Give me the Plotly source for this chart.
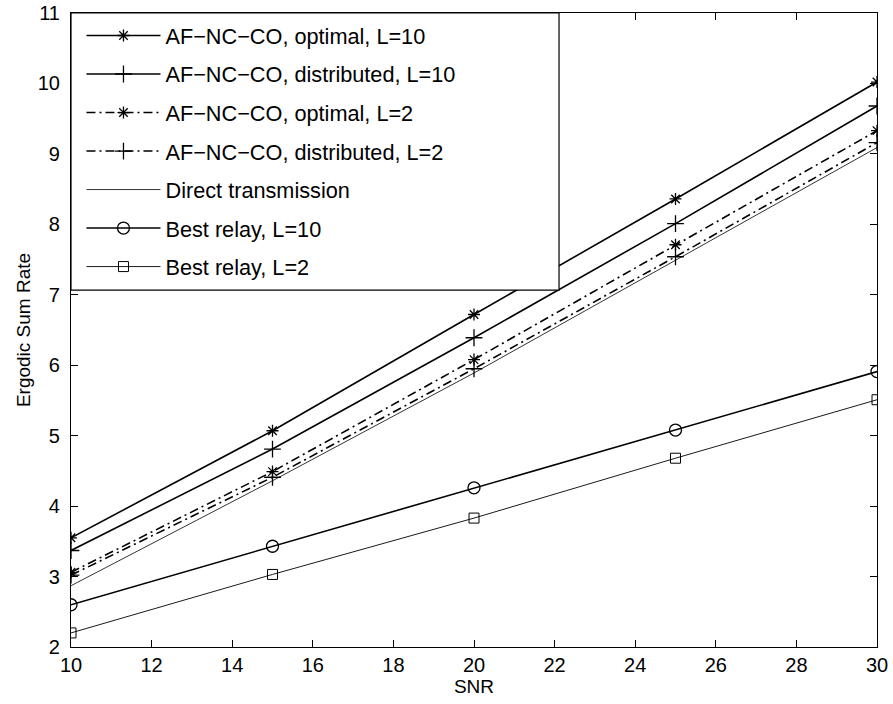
import plotly.graph_objects as go

snr = [10, 15, 20, 25, 30]
opt_L10 = [3.55, 5.07, 6.72, 8.36, 10.02]
dist_L10 = [3.37, 4.81, 6.39, 8.01, 9.68]
opt_L2 = [3.06, 4.49, 6.08, 7.71, 9.33]
dist_L2 = [3.02, 4.41, 5.95, 7.54, 9.16]
direct = [2.87, 4.36, 5.89, 7.49, 9.09]
best_L10 = [2.60, 3.43, 4.26, 5.08, 5.91]
best_L2 = [2.20, 3.03, 3.83, 4.68, 5.51]

names = ["AF\u2212NC\u2212CO, optimal, L=10", "AF\u2212NC\u2212CO, distributed, L=10",
         "AF\u2212NC\u2212CO, optimal, L=2", "AF\u2212NC\u2212CO, distributed, L=2",
         "Direct transmission", "Best relay, L=10", "Best relay, L=2"]

dashdot = "9px,4px,2px,4px"
specs = [
    (opt_L10, "solid", 1.6, "lines+markers", "asterisk-open", 10),
    (dist_L10, "solid", 1.6, "lines+markers", "cross-thin-open", 12),
    (opt_L2, dashdot, 1.6, "lines+markers", "asterisk-open", 10),
    (dist_L2, dashdot, 1.6, "lines+markers", "cross-thin-open", 12),
    (direct, "solid", 0.8, "lines", "circle", 1),
    (best_L10, "solid", 1.6, "lines+markers", "circle-open", 12),
    (best_L2, "solid", 0.9, "lines+markers", "square-open", 10),
]

fig = go.Figure()
for i, (vals, dash, w, mode, sym, sz) in enumerate(specs):
    fig.add_trace(go.Scatter(
        x=snr, y=vals, name=names[i], mode=mode, legendgroup=str(i),
        line=dict(color="black", width=w, dash=dash),
        marker=dict(symbol=sym, size=sz, color="black",
                    line=dict(color="black", width=1.3 if w > 1 else 1)),
    ))

# legend frame (drawn as a shape so its size matches the reference)
fig.add_shape(type="rect", xref="paper", yref="paper",
              x0=0, x1=0.6055, y0=0.563, y1=1,
              fillcolor="white", line=dict(color="black", width=1.2), layer="above")

fig.update_layout(
    width=893, height=704,
    margin=dict(l=71, r=16, t=13, b=57),
    paper_bgcolor="white", plot_bgcolor="white",
    font=dict(family="Liberation Sans, Arial, sans-serif", size=21, color="black"),
    showlegend=True,
    legend=dict(x=0.013, y=0.997, xanchor="left", yanchor="top",
                borderwidth=0, bgcolor="rgba(0,0,0,0)",
                font=dict(size=21.7), itemwidth=74,
                traceorder="grouped", tracegroupgap=7.3),
)
fig.update_xaxes(range=[10, 30], tickmode="linear", tick0=10, dtick=2,
                 ticks="inside", ticklen=7, tickcolor="black", mirror="ticks",
                 showline=True, linecolor="black", linewidth=1.2, showgrid=False,
                 zeroline=False, automargin=False,
                 title=dict(text="SNR", font=dict(size=19), standoff=0),
                 tickfont=dict(size=20))
fig.update_yaxes(range=[2, 11], tickmode="linear", tick0=2, dtick=1,
                 ticks="inside", ticklen=7, tickcolor="black", mirror="ticks",
                 showline=True, linecolor="black", linewidth=1.2, showgrid=False,
                 zeroline=False, automargin=False, ticklabelstandoff=6,
                 title=dict(text="Ergodic Sum Rate", font=dict(size=19), standoff=2),
                 tickfont=dict(size=20))

fig.write_html("out.html", config={"displayModeBar": False},
               post_script="document.body.style.margin='0px';")
